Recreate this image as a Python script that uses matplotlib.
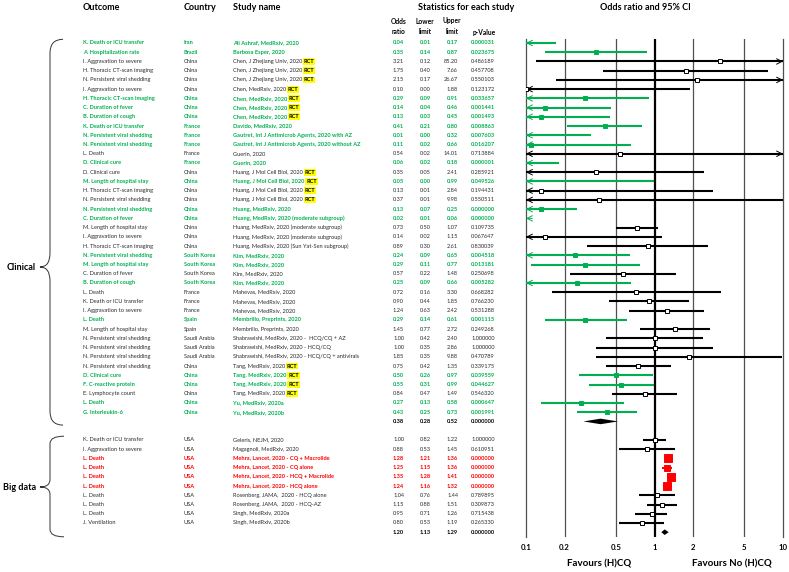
import numpy as np
import matplotlib.pyplot as plt
import matplotlib.transforms as mtransforms
from matplotlib.path import Path
from matplotlib.patches import PathPatch

plt.rcParams['font.family'] = ['Lato', 'DejaVu Sans']

# ---- clinical studies ----
clin_outcome = [
    "K. Death or ICU transfer", "A. Hospitalization rate", "I. Aggravation to severe",
    "H. Thoracic CT-scan imaging", "N. Persistent viral shedding", "I. Aggravation to severe",
    "H. Thoracic CT-scan imaging", "C. Duration of fever", "B. Duration of cough",
    "K. Death or ICU transfer", "N. Persistent viral shedding", "N. Persistent viral shedding",
    "L. Death", "D. Clinical cure", "D. Clinical cure", "M. Length of hospital stay",
    "H. Thoracic CT-scan imaging", "N. Persistent viral shedding", "N. Persistent viral shedding",
    "C. Duration of fever", "M. Length of hospital stay", "I. Aggravation to severe",
    "H. Thoracic CT-scan imaging", "N. Persistent viral shedding", "M. Length of hospital stay",
    "C. Duration of fever", "B. Duration of cough", "L. Death", "K. Death or ICU transfer",
    "I. Aggravation to severe", "L. Death", "M. Length of hospital stay",
    "N. Persistent viral shedding", "N. Persistent viral shedding", "N. Persistent viral shedding",
    "N. Persistent viral shedding", "D. Clinical cure", "F. C-reactive protein",
    "E. Lymphocyte count", "L. Death", "G. Interleukin-6"]
clin_country = (["Iran", "Brazil"] + ["China"] * 7 + ["France"] * 5 + ["China"] * 9
                + ["South Korea"] * 4 + ["France"] * 3 + ["Spain"] * 2
                + ["Saudi Arabia"] * 3 + ["China"] * 6)
clin_study = (["Ali Ashraf, MedRxiv, 2020", "Barbosa Esper, 2020"]
              + ["Chen, J Zhejiang Univ, 2020"] * 3 + ["Chen, MedRxiv, 2020"] * 4
              + ["Davido, MedRxiv, 2020",
                 "Gautret, Int J Antimicrob Agents, 2020 with AZ",
                 "Gautret, Int J Antimicrob Agents, 2020 without AZ"]
              + ["Guerin, 2020"] * 2 + ["Huang, J Mol Cell Biol, 2020"] * 4
              + ["Huang, MedRxiv, 2020"] + ["Huang, MedRxiv, 2020 (moderate subgroup)"] * 3
              + ["Huang, MedRxiv, 2020 (Sun Yat-Sen subgroup)"]
              + ["Kim, MedRxiv, 2020"] * 4 + ["Mahevas, MedRxiv, 2020"] * 3
              + ["Membrillo, Preprints, 2020"] * 2
              + ["Shabrawishi, MedRxiv, 2020 -  HCQ/CQ + AZ",
                 "Shabrawishi, MedRxiv, 2020 - HCQ/CQ",
                 "Shabrawishi, MedRxiv, 2020 - HCQ/CQ + antivirals"]
              + ["Tang, MedRxiv, 2020"] * 4 + ["Yu, MedRxiv, 2020a", "Yu, MedRxiv, 2020b"])
clin_rct = [0, 0, 1, 1, 1, 1, 1, 1, 1, 0, 0, 0, 0, 0, 1, 1, 1, 1, 0, 0, 0, 0, 0, 0, 0,
            0, 0, 0, 0, 0, 0, 0, 0, 0, 0, 1, 1, 1, 1, 0, 0]
clin_or = [0.04, 0.35, 3.21, 1.75, 2.15, 0.10, 0.29, 0.14, 0.13, 0.41, 0.01, 0.11, 0.54,
           0.06, 0.35, 0.05, 0.13, 0.37, 0.13, 0.02, 0.73, 0.14, 0.89, 0.24, 0.29, 0.57,
           0.25, 0.72, 0.90, 1.24, 0.29, 1.45, 1.00, 1.00, 1.85, 0.75, 0.50, 0.55, 0.84,
           0.27, 0.43]
clin_lo = [0.01, 0.14, 0.12, 0.40, 0.17, 0.00, 0.09, 0.04, 0.03, 0.21, 0.00, 0.02, 0.02,
           0.02, 0.05, 0.00, 0.01, 0.01, 0.07, 0.01, 0.50, 0.02, 0.30, 0.09, 0.11, 0.22,
           0.09, 0.16, 0.44, 0.63, 0.14, 0.77, 0.42, 0.35, 0.35, 0.42, 0.26, 0.31, 0.47,
           0.13, 0.25]
clin_hi = [0.17, 0.87, 85.20, 7.66, 26.67, 1.88, 0.91, 0.46, 0.45, 0.80, 0.32, 0.66, 14.01,
           0.18, 2.41, 0.99, 2.84, 9.98, 0.25, 0.06, 1.07, 1.15, 2.61, 0.65, 0.77, 1.48,
           0.66, 3.30, 1.85, 2.42, 0.61, 2.72, 2.40, 2.86, 9.88, 1.35, 0.97, 0.99, 1.49,
           0.58, 0.73]
clin_p = [0.000031, 0.023675, 0.486189, 0.457708, 0.550103, 0.123172, 0.033657, 0.001441,
          0.001493, 0.008863, 0.007603, 0.016207, 0.713884, 0.000001, 0.285921, 0.049526,
          0.194431, 0.550511, 0.000000, 0.000000, 0.109735, 0.067647, 0.830039, 0.004518,
          0.013181, 0.250698, 0.005282, 0.668282, 0.766230, 0.531288, 0.001115, 0.249268,
          1.000000, 1.000000, 0.470789, 0.339175, 0.039559, 0.044627, 0.546320, 0.000647,
          0.001991]
clin_summary = [0.38, 0.28, 0.52, 0.000000]

# ---- big data studies ----
big_outcome = ["K. Death or ICU transfer", "I. Aggravation to severe"] + ["L. Death"] * 7 + ["J. Ventilation"]
big_country = ["USA"] * 10
big_study = ["Geleris, NEJM, 2020", "Magagnoli, MedRxiv, 2020",
             "Mehra, Lancet, 2020 - CQ + Macrolide", "Mehra, Lancet, 2020 - CQ alone",
             "Mehra, Lancet, 2020 - HCQ + Macrolide", "Mehra, Lancet, 2020 - HCQ alone",
             "Rosenberg, JAMA,  2020 - HCQ alone", "Rosenberg, JAMA,  2020 - HCQ-AZ",
             "Singh, MedRxiv, 2020a", "Singh, MedRxiv, 2020b"]
big_or = [1.00, 0.88, 1.28, 1.25, 1.35, 1.24, 1.04, 1.15, 0.95, 0.80]
big_lo = [0.82, 0.53, 1.21, 1.15, 1.28, 1.16, 0.76, 0.88, 0.71, 0.53]
big_hi = [1.22, 1.45, 1.36, 1.36, 1.41, 1.32, 1.44, 1.51, 1.26, 1.19]
big_p = [1.000000, 0.610951, 0.000000, 0.000000, 0.000000, 0.000000, 0.789895, 0.309873,
         0.715438, 0.265330]
big_summary = [1.20, 1.13, 1.29, 0.000000]

xtick_vals = [0.1, 0.2, 0.5, 1, 2, 5, 10]

GREEN = '#00B050'
RED = '#FF0000'
DARK = '#2b2b2b'

W, H = 789, 572
fig = plt.figure(figsize=(W / 100, H / 100), dpi=100)

# forest axes: rows are y units, 9.23 px per row, first row at 43 px
ROW0, DY = 43, 9.23
top_px, bot_px = 39, 537
ax = fig.add_axes([526 / W, 1 - bot_px / H, 257 / W, (bot_px - top_px) / H])
ax.set_xscale('log')
ax.set_xlim(0.1, 10)
ax.set_ylim((bot_px - ROW0) / DY, (top_px - ROW0) / DY)
for s in ['top', 'bottom']:
    ax.spines[s].set_visible(False)
for s in ['left', 'right']:
    ax.spines[s].set_color('#505050')
    ax.spines[s].set_linewidth(0.9)
ax.set_yticks([])
ax.set_xticks(xtick_vals)
ax.set_xticklabels([f"{v:g}" for v in xtick_vals], fontsize=5.6, fontweight='bold')
ax.xaxis.set_minor_locator(plt.NullLocator())
ax.tick_params(axis='x', length=0, pad=5)
for v in [0.2, 0.5, 2, 5]:
    ax.axvline(v, color='#505050', lw=0.9, zorder=1)
ax.axvline(1, color='black', lw=1.6, zorder=1)

trans = mtransforms.blended_transform_factory(fig.transFigure, ax.transData)
FS = 4.1
HEAD = 'simple'


def fx(px):
    return px / W


def head(x_edge, y, color, left):
    # open chevron at the axis edge for an interval that runs off the scale
    start = x_edge * 1.12 if left else x_edge / 1.12
    ax.annotate('', xy=(x_edge, y), xytext=(start, y), annotation_clip=False,
                arrowprops=dict(arrowstyle='->,head_length=0.55,head_width=0.28',
                                color=color, lw=0.7, shrinkA=0, shrinkB=0, mutation_scale=7))


def draw_ci(y, o, lo, hi, color, marker_face):
    lo_c, hi_c = max(lo, 0.1), min(hi, 10)
    if hi < 0.1:
        head(0.1, y, color, True)
    else:
        ax.plot([lo_c, hi_c], [y, y], color=color, lw=1.5, solid_capstyle='butt', zorder=3)
        if lo < 0.1:
            head(0.1, y, color, True)
        if hi > 10:
            head(10, y, color, False)
    width = np.log(max(hi, 0.005) / max(lo, 0.005))
    ms = float(np.clip(0.75 / width, 2.3, 5.6))
    ax.plot([o], [y], marker='s', ms=ms, mfc=marker_face, mec=color, mew=0.7, zorder=4)


def draw_row(y, outcome, country, study, rct, o, lo, hi, p, color, bold):
    fw = 'bold' if bold else 'normal'
    kw = dict(transform=trans, fontsize=FS, color=color, fontweight=fw, va='center')
    ax.text(fx(83), y, outcome, ha='left', **kw)
    ax.text(fx(184), y, country, ha='left', **kw)
    t = ax.text(fx(233), y, study, ha='left', **kw)
    if rct:
        ax.annotate('RCT', xy=(1, 0.5), xycoords=t, xytext=(1.2, 0), textcoords='offset points',
                    va='center', ha='left', fontsize=FS, fontweight='bold', color='black',
                    bbox=dict(boxstyle='square,pad=0.15', fc='#FFFF00', ec='none'))
    ax.text(fx(404), y, f"{o:.2f}", ha='right', **kw)
    ax.text(fx(431), y, f"{lo:.2f}", ha='right', **kw)
    ax.text(fx(458), y, f"{hi:.2f}", ha='right', **kw)
    ax.text(fx(471), y, f"{p:.6f}", ha='left', **kw)


def draw_summary(y, vals):
    o, lo, hi, p = vals
    kw = dict(transform=trans, fontsize=FS, color='black', fontweight='bold', va='center')
    ax.text(fx(404), y, f"{o:.2f}", ha='right', **kw)
    ax.text(fx(431), y, f"{lo:.2f}", ha='right', **kw)
    ax.text(fx(458), y, f"{hi:.2f}", ha='right', **kw)
    ax.text(fx(471), y, f"{p:.6f}", ha='left', **kw)
    hh = 0.3
    ax.fill([lo, o, hi, o], [y, y - hh, y, y + hh], color='black', zorder=5, lw=0)


# clinical block
for i in range(len(clin_or)):
    sig = clin_p[i] < 0.05
    color = GREEN if sig else DARK
    draw_row(i, clin_outcome[i], clin_country[i], clin_study[i], clin_rct[i],
             clin_or[i], clin_lo[i], clin_hi[i], clin_p[i], color, sig)
    draw_ci(i, clin_or[i], clin_lo[i], clin_hi[i], GREEN if sig else 'black',
            GREEN if sig else 'white')
y_clin_sum = len(clin_or)
draw_summary(y_clin_sum, clin_summary)

# big data block
y0_big = y_clin_sum + 2
for j in range(len(big_or)):
    y = y0_big + j
    sig = big_p[j] < 0.05
    color = RED if sig else DARK
    draw_row(y, big_outcome[j], big_country[j], big_study[j], 0,
             big_or[j], big_lo[j], big_hi[j], big_p[j], color, sig)
    draw_ci(y, big_or[j], big_lo[j], big_hi[j], RED if sig else 'black',
            RED if sig else 'white')
y_big_sum = y0_big + len(big_or)
draw_summary(y_big_sum, big_summary)


# headers
def row_of(px):
    return (px - ROW0) / DY


hkw = dict(transform=trans, fontsize=6.5, fontweight='bold', color='black', va='center')
ax.text(fx(83), row_of(8), "Outcome", ha='left', **hkw)
ax.text(fx(184), row_of(8), "Country", ha='left', **hkw)
ax.text(fx(233), row_of(8), "Study name", ha='left', **hkw)
ax.text(fx(466), row_of(8), "Statistics for each study", ha='center', **hkw)
ax.text(fx(645), row_of(8), "Odds ratio and 95% CI", ha='center', **hkw)
skw = dict(transform=trans, fontsize=4.8, fontweight='bold', color='black', va='center', ha='center')
for xc, l1, l2 in [(399, "Odds", "ratio"), (425, "Lower", "limit"), (452, "Upper", "limit")]:
    ax.text(fx(xc), row_of(21), l1, **skw)
    ax.text(fx(xc), row_of(32), l2, **skw)
ax.text(fx(484), row_of(32), "p-Value", **skw)

ax.text(0.284, -0.054, "Favours (H)CQ", transform=ax.transAxes, ha='center', va='center',
        fontsize=7, fontweight='bold')
ax.text(0.80, -0.054, "Favours No (H)CQ", transform=ax.transAxes, ha='center', va='center',
        fontsize=7, fontweight='bold')


# braces
def brace(y_top, y_bot, y_tip, x_end, x_sp, x_tip, d=1.2):
    verts = [(x_end, y_top), (x_sp, y_top), (x_sp, y_top + d),
             (x_sp, y_tip - d), (x_sp, y_tip), (x_tip, y_tip),
             (x_sp, y_tip), (x_sp, y_tip + d),
             (x_sp, y_bot - d), (x_sp, y_bot), (x_end, y_bot)]
    codes = [Path.MOVETO, Path.CURVE3, Path.CURVE3, Path.LINETO, Path.CURVE3, Path.CURVE3,
             Path.CURVE3, Path.CURVE3, Path.LINETO, Path.CURVE3, Path.CURVE3]
    verts = [(fx(a), b) for a, b in verts]
    patch = PathPatch(Path(verts, codes), transform=trans, fc='none', ec='#333333', lw=0.7,
                      clip_on=False)
    ax.add_patch(patch)


brace(-0.4, y_clin_sum + 0.4, row_of(267), 63, 50, 40, d=1.5)
brace(y0_big - 0.4, y_big_sum + 0.5, row_of(487), 64, 50, 40, d=0.8)
ax.text(fx(36), row_of(267), "Clinical", transform=trans, ha='right', va='center',
        fontsize=6.5, fontweight='bold')
ax.text(fx(36), row_of(487), "Big data", transform=trans, ha='right', va='center',
        fontsize=6.5, fontweight='bold')

fig.savefig('out.png', dpi=100)
